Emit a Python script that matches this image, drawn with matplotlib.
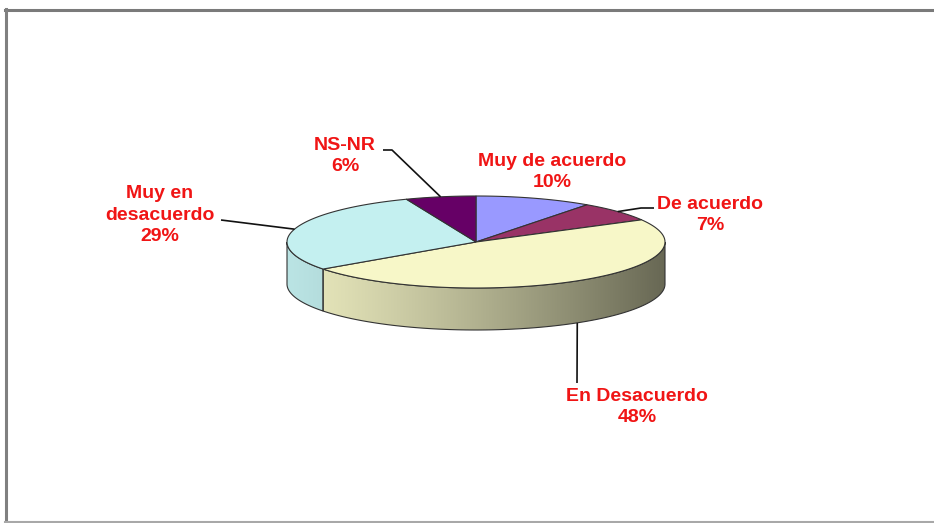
import numpy as np
import matplotlib.pyplot as plt
from matplotlib.patches import Polygon
from matplotlib.lines import Line2D

plt.rcParams['font.family'] = ['Liberation Sans', 'DejaVu Sans']

labels = ['Muy de acuerdo', 'De acuerdo', 'En Desacuerdo', 'Muy en\ndesacuerdo', 'NS-NR']
pcts = [10, 7, 48, 29, 6]
colors = ['#9999FF', '#993366', '#F7F7C8', '#C4F0F0', '#660066']

# pie layout (pixel space)
cx, cy, a, b, depth = 476, 242, 189, 46, 42

# label placement: (text centre x, y, leader start points or None)
label_pos = [
    (552, 172, None),
    (710, 215, [(654, 208), (641, 208)]),
    (637, 407, [(577, 383)]),
    (160, 215, [(221, 220)]),
    (345, 156, [(383, 150), (392, 150)]),
]


def pt(th, dy=0.0):
    r = np.radians(th)
    return cx + a * np.sin(r), cy - b * np.cos(r) + dy


fig = plt.figure(figsize=(9.34, 5.23), dpi=100)
ax = fig.add_axes([0, 0, 1, 1])

bounds = np.cumsum([0] + pcts) / sum(pcts) * 360

# side walls with horizontal shading
for i, col in enumerate(colors):
    t0, t1 = bounds[i], bounds[i + 1]
    s0, s1 = max(t0, 90), min(t1, 270)
    if s0 >= s1:
        continue
    th = np.linspace(s0, s1, 120)
    xt, yt = pt(th)
    xb, yb = pt(th[::-1], depth)
    verts = np.column_stack([np.r_[xt, xb], np.r_[yt, yb]])
    poly = Polygon(verts, closed=True, facecolor='none', edgecolor='#333333', lw=0.8, zorder=3)
    ax.add_patch(poly)
    xs = np.linspace(0, 1, 400)
    shade = 0.95 - 0.53 * xs ** 1.2
    base = np.array(plt.matplotlib.colors.to_rgb(col))
    img = (base[None, :] * shade[:, None])[None, :, :]
    im = ax.imshow(img, extent=(cx - a, cx + a, cy + b + depth + 2, cy - 2),
                   aspect='auto', zorder=2, interpolation='bilinear')
    im.set_clip_path(poly)

# top face
for i, col in enumerate(colors):
    th = np.linspace(bounds[i], bounds[i + 1], 120)
    xt, yt = pt(th)
    verts = np.column_stack([np.r_[cx, xt], np.r_[cy, yt]])
    ax.add_patch(Polygon(verts, closed=True, facecolor=col, edgecolor='#333333',
                         lw=0.8, zorder=4))

# labels and leader lines
for i, (lab, p) in enumerate(zip(labels, pcts)):
    tx, ty, lead = label_pos[i]
    ax.text(tx, ty, f'{lab}\n{p}%', ha='center', va='center', color='#F01515',
            fontsize=14, fontweight='bold', linespacing=1.38, zorder=6)
    if lead is None:
        continue
    mid = (bounds[i] + bounds[i + 1]) / 2
    if i == 2:
        ax_, ay_ = pt(mid, depth)
    else:
        ax_, ay_ = pt(mid)
    xs = [q[0] for q in lead] + [ax_]
    ys = [q[1] for q in lead] + [ay_]
    ax.plot(xs, ys, color='#111111', lw=1.2, zorder=5, solid_capstyle='butt')

ax.set_xlim(0, 934)
ax.set_ylim(523, 0)
ax.axis('off')

# outer frame
fig.add_artist(Line2D([5 / 934, 1], [1 - 9.5 / 523] * 2, color='#7a7a7a', lw=2.2))
fig.add_artist(Line2D([6 / 934] * 2, [0, 1 - 9 / 523], color='#808080', lw=2.2))
fig.add_artist(Line2D([5 / 934, 1], [1.5 / 523] * 2, color='#a8a8a8', lw=1.5))

fig.savefig('out.png', dpi=100)
